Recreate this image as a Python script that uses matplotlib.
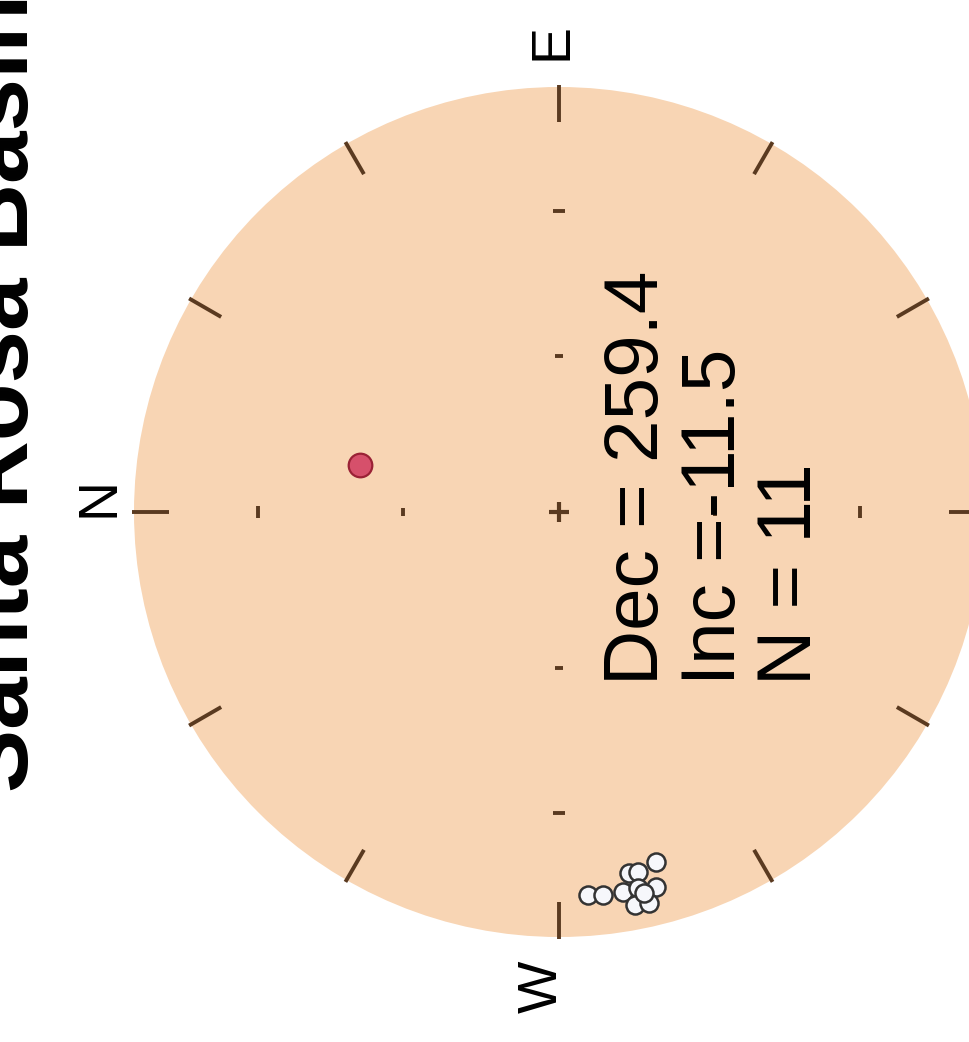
import numpy as np
import matplotlib.pyplot as plt
from matplotlib.patches import Circle

# site mean directions (upper hemisphere -> open symbols)
site_dec = [265.6, 263.4, 260.4, 259.0, 257.6, 254.5, 255.5, 258.1, 259.1, 257.1, 257.4]
site_inc = [-10.6, -10.2, -10.3, -14.5, -14.4, -15.7, -9.8, -10.4, -6.5, -6.2, -8.9]

# reference direction (lower hemisphere -> filled red)
ref_dec = [13.3]
ref_inc = [50.2]

# summary statistics
mean_dec = 259.4
mean_inc = -11.5
n_sites = 11

rim_azimuths = np.arange(0, 360, 30)
axis_incs = [30, 60]
axis_tick_len = {30: 0.030, 60: 0.018}


def proj(dec, inc):
    # equal-area projection, rotated so north points left and east points up
    dec = np.radians(np.asarray(dec, dtype=float))
    inc = np.asarray(inc, dtype=float)
    r = np.sqrt(2) * np.sin(np.radians(90 - np.abs(inc)) / 2)
    e = r * np.sin(dec)
    n = r * np.cos(dec)
    return -n, e


plt.rcParams['font.family'] = ['Liberation Sans', 'DejaVu Sans']

fig = plt.figure(figsize=(9.69, 10.42), dpi=100)
ax = fig.add_axes([0, 0, 1, 1])
ax.set_xlim(-559 / 425, 410 / 425)
ax.set_ylim(-530 / 425, 512 / 425)
ax.axis('off')

tick_col = '#5a3a20'

# primitive circle
ax.add_patch(Circle((0, 0), 1.0, facecolor='#f8d5b4', edgecolor='none', zorder=0))

# rim ticks every 30 degrees
for az in rim_azimuths:
    a = np.radians(az)
    dx, dy = -np.cos(a), np.sin(a)
    ax.plot([1.005 * dx, 0.918 * dx], [1.005 * dy, 0.918 * dy],
            color=tick_col, lw=2.8, solid_capstyle='butt', zorder=1)

# inclination ticks along the N-S and E-W axes
for az in [0, 90, 180, 270]:
    for inc in axis_incs:
        x, y = proj(az, inc)
        h = axis_tick_len[inc] / 2
        if az in (0, 180):
            ax.plot([x, x], [y - h, y + h], color=tick_col, lw=2.8,
                    solid_capstyle='butt', zorder=1)
        else:
            ax.plot([x - h, x + h], [y, y], color=tick_col, lw=2.8,
                    solid_capstyle='butt', zorder=1)

# centre cross
c = 0.024
ax.plot([-c, c], [0, 0], color=tick_col, lw=3, solid_capstyle='butt', zorder=1)
ax.plot([0, 0], [-c, c], color=tick_col, lw=3, solid_capstyle='butt', zorder=1)

# data
sx, sy = proj(site_dec, site_inc)
ax.plot(sx, sy, 'o', ms=13, mfc='#f6f7fb', mec='#333333', mew=1.8, zorder=3)
rx, ry = proj(ref_dec, ref_inc)
ax.plot(rx, ry, 'o', ms=17, mfc='#d6506b', mec='#9a2236', mew=1.6, zorder=3)

# cardinal labels
ax.text(-1.082, 0.035, 'N', rotation=90, ha='center', va='center', fontsize=40)
ax.text(-0.016, 1.108, 'E', rotation=90, ha='center', va='center', fontsize=40)
ax.text(-0.038, -1.118, 'W', rotation=90, ha='center', va='center', fontsize=40)

# statistics text
stats = ['Dec = %.1f' % mean_dec, 'Inc =%.1f' % mean_inc, 'N = %d' % n_sites]
for i, s in enumerate(stats):
    ax.text(0.233 + i * 0.180, -0.407, s, rotation=90, rotation_mode='anchor',
            ha='left', va='baseline', fontsize=55, zorder=4)

# title (cut off at the left edge, as in the source figure)
ax.text(-1.25, -0.66, 'Santa Rosa Basin', rotation=90, rotation_mode='anchor',
        ha='left', va='baseline', fontsize=68, fontweight='bold')

fig.savefig('out.png', dpi=100)
